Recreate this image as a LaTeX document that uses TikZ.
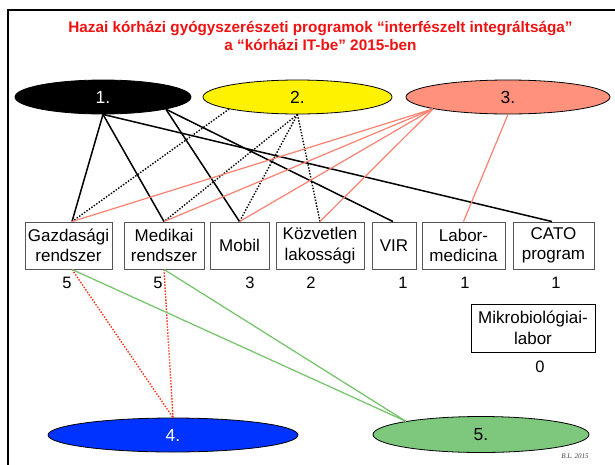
\documentclass[tikz,border=0pt]{standalone}
\usepackage{fontspec}
\setmainfont{Liberation Sans}
\newfontfamily\sigfont{Liberation Serif}
\usetikzlibrary{shapes.geometric}

\definecolor{titlered}{RGB}{240,18,18}
\definecolor{salmonfill}{RGB}{255,145,125}
\definecolor{salmonline}{RGB}{250,128,112}
\definecolor{greenfill}{RGB}{126,200,126}
\definecolor{greenline}{RGB}{122,196,112}
\definecolor{bluefill}{RGB}{0,51,255}
\definecolor{reddot}{RGB}{255,45,20}
\definecolor{boxgray}{RGB}{85,85,85}

\tikzset{
  grp/.style={ellipse, draw=black, line width=0.8pt, inner sep=0pt,
    minimum height=34pt, font=\fontsize{17.5}{20}\selectfont},
  sysbox/.style={rectangle, draw=boxgray, line width=0.9pt, inner sep=0pt,
    minimum height=47pt, align=center, font=\fontsize{17}{20.5}\selectfont},
  cnt/.style={font=\fontsize{16.5}{19}\selectfont, inner sep=0pt},
  solidlink/.style={black, line width=1.5pt},
  dotlink/.style={black, line width=1.4pt, dash pattern=on 1.4pt off 1.6pt},
  salmonlink/.style={salmonline, line width=1.2pt},
  greenlink/.style={greenline, line width=1.3pt},
  redlink/.style={reddot, line width=1.4pt, dash pattern=on 1.4pt off 1.6pt}
}

\begin{document}
\begin{tikzpicture}[x=1pt, y=-1pt]
\useasboundingbox (0,0) rectangle (615,464);

% slide frame
\draw[line width=2pt] (8,470) -- (8,10) -- (620,10);

% title
\node[titlered, align=center, font=\bfseries\fontsize{15.3}{17.5}\selectfont] (title) at (320.5,36)
  {Hazai kórházi gyógyszerészeti programok “interfészelt integráltsága”\\a “kórházi IT-be” 2015-ben};

% groups
\node[grp, fill=black, text=white, minimum width=176pt] (e1) at (103,97) {1.};
\node[grp, fill=yellow, minimum width=189pt] (e2) at (297.5,97) {2.};
\node[grp, fill=salmonfill, minimum width=204pt] (e3) at (508,97) {3.};
\node[grp, fill=bluefill, text=white, minimum width=250pt] (e4) at (173,435) {4.};
\node[grp, fill=greenfill, minimum width=216pt, minimum height=36pt] (e5) at (481,434.5) {5.};

% systems
\node[sysbox, minimum width=87pt] (g) at (68.5,245.5) {Gazdasági\\rendszer};
\node[sysbox, minimum width=80pt] (m) at (164,245.5) {Medikai\\rendszer};
\node[sysbox, minimum width=59pt] (mob) at (239.5,245.5) {Mobil};
\node[sysbox, minimum width=88pt] (k) at (320,245.5) {Közvetlen\\lakossági};
\node[sysbox, minimum width=44pt] (vir) at (394,245.5) {VIR};
\node[sysbox, minimum width=83pt] (lab) at (463.5,245.5) {Labor-\\medicina};
\node[sysbox, minimum width=81pt] (cato) at (553.5,245.5) {CATO\\program};
\node[sysbox, draw=black, minimum width=124pt, minimum height=48pt] (mik) at (533,328) {Mikrobiológiai-\\labor};

% link counts
\node[cnt] (n1) at (67,283) {5};
\node[cnt] (n2) at (158,283) {5};
\node[cnt] (n3) at (250,283) {3};
\node[cnt] (n4) at (311,283) {2};
\node[cnt] (n5) at (403,283) {1};
\node[cnt] (n6) at (465,283) {1};
\node[cnt] (n7) at (556,283) {1};
\node[cnt] (n8) at (540,367) {0};

% attachment points on the Gazdasági box
\coordinate (gt) at ([xshift=3.5pt]g.north);
\coordinate (gb) at ([xshift=3.5pt]g.south);

% group 1
\draw[solidlink] (e1.south) -- (gt);
\draw[solidlink] (e1.south) -- (m.north);
\draw[solidlink] (e1.south) -- ([xshift=-1.5pt]cato.north);
\draw[solidlink] (e1.-11) -- (mob.north);
\draw[solidlink] (e1.-11) -- ([xshift=-1pt]vir.north);

% group 2
\draw[dotlink] (e2.-170) -- (gt);
\draw[dotlink] (e2.south) -- (m.north);
\draw[dotlink] (e2.south) -- (mob.north);
\draw[dotlink] (e2.south) -- (k.north);

% group 3
\draw[salmonlink] (e3.-171) -- (gt);
\draw[salmonlink] (e3.-171) -- (m.north);
\draw[salmonlink] (e3.-171) -- (mob.north);
\draw[salmonlink] (e3.-171) -- (k.north);
\draw[salmonlink] (e3.south) -- (lab.north);

% group 4
\draw[redlink] (gb) -- (e4.north);
\draw[redlink] (m.south) -- (e4.north);

% group 5
\draw[greenlink] (gb) -- (e5.170);
\draw[greenlink] (m.south) -- (e5.170);

% signature
\node[font=\sigfont\itshape\fontsize{7}{8}\selectfont, text=black!75, inner sep=0pt] (sig) at (575,456) {B.L. 2015};
\end{tikzpicture}
\end{document}
